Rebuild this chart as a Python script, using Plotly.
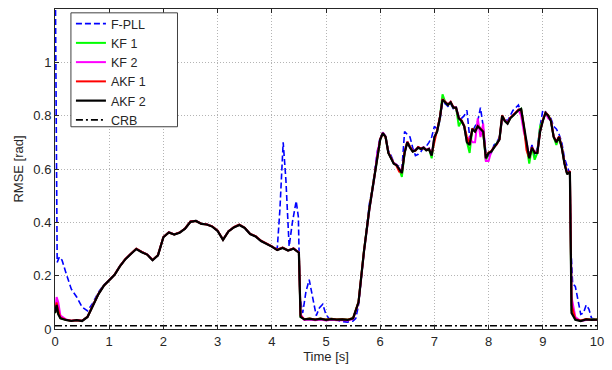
import plotly.graph_objects as go

# Sample times shared by the Kalman-filter estimators
t_kf = [0.0, 0.03, 0.06, 0.1, 0.2, 0.3, 0.4, 0.5, 0.6, 0.7,
        0.8, 0.9, 1.0, 1.1, 1.2, 1.3, 1.4, 1.5, 1.6, 1.7,
        1.8, 1.9, 2.0, 2.1, 2.2, 2.3, 2.4, 2.5, 2.6, 2.7,
        2.8, 2.9, 3.0, 3.1, 3.2, 3.3, 3.4, 3.5, 3.6, 3.7,
        3.8, 3.9, 4.0, 4.1, 4.2, 4.3, 4.4, 4.5, 4.53, 4.6,
        4.7, 4.8, 4.9, 5.0, 5.1, 5.2, 5.3, 5.4, 5.5, 5.6,
        5.7, 5.8, 5.9,
        5.95, 6.0, 6.05, 6.1, 6.15, 6.2, 6.25, 6.3, 6.35, 6.4,
        6.45, 6.5, 6.55, 6.6, 6.65, 6.7, 6.75, 6.8, 6.85, 6.9,
        6.95, 7.0, 7.05, 7.1, 7.15, 7.2, 7.25, 7.3, 7.35, 7.4,
        7.45, 7.5, 7.55, 7.6, 7.65, 7.7, 7.75, 7.8, 7.85, 7.9,
        7.95, 8.0, 8.05, 8.1, 8.15, 8.2, 8.25, 8.3, 8.35, 8.4,
        8.45, 8.5, 8.55, 8.6, 8.65, 8.7, 8.75, 8.8, 8.85, 8.9,
        8.95, 9.0, 9.05, 9.1, 9.15, 9.2, 9.25, 9.3, 9.35, 9.4,
        9.45, 9.5,
        9.53, 9.6, 9.7, 9.8, 9.9, 10.0]

akf2 = [0.060, 0.090, 0.055, 0.040, 0.034, 0.030, 0.033, 0.030, 0.045, 0.088,
        0.130, 0.162, 0.182, 0.203, 0.236, 0.262, 0.281, 0.300, 0.288, 0.279,
        0.258, 0.276, 0.344, 0.362, 0.354, 0.361, 0.376, 0.402, 0.405, 0.394,
        0.392, 0.384, 0.368, 0.334, 0.366, 0.381, 0.390, 0.379, 0.356, 0.347,
        0.330, 0.321, 0.309, 0.296, 0.304, 0.294, 0.301, 0.286, 0.045, 0.036,
        0.038, 0.035, 0.038, 0.034, 0.037, 0.035, 0.036, 0.034, 0.040, 0.100,
        0.290, 0.450, 0.580,
        0.660, 0.710, 0.735, 0.720, 0.660, 0.640, 0.620, 0.615, 0.600, 0.585,
        0.660, 0.700, 0.680, 0.665, 0.670, 0.680, 0.675, 0.680, 0.670, 0.675,
        0.650, 0.720, 0.740, 0.790, 0.860, 0.850, 0.840, 0.850, 0.830, 0.830,
        0.790, 0.780, 0.760, 0.700, 0.690, 0.750, 0.740, 0.760, 0.750, 0.740,
        0.640, 0.660, 0.665, 0.680, 0.690, 0.710, 0.800, 0.780, 0.770, 0.790,
        0.800, 0.810, 0.820, 0.825, 0.760, 0.700, 0.640, 0.680, 0.660, 0.660,
        0.740, 0.780, 0.810, 0.800, 0.780, 0.720, 0.700, 0.720, 0.680, 0.620,
        0.580, 0.590,
        0.060, 0.035, 0.030, 0.036, 0.034, 0.035]

akf1 = [0.060, 0.100, 0.070, 0.042, 0.035, 0.031, 0.033, 0.031, 0.046, 0.089,
        0.131, 0.162, 0.183, 0.204, 0.236, 0.263, 0.282, 0.301, 0.289, 0.279,
        0.259, 0.277, 0.345, 0.362, 0.355, 0.362, 0.377, 0.403, 0.405, 0.395,
        0.392, 0.385, 0.369, 0.335, 0.366, 0.382, 0.391, 0.380, 0.357, 0.348,
        0.331, 0.322, 0.310, 0.297, 0.305, 0.295, 0.302, 0.287, 0.050, 0.037,
        0.039, 0.036, 0.039, 0.035, 0.038, 0.036, 0.037, 0.035, 0.041, 0.102,
        0.292, 0.452, 0.582,
        0.662, 0.712, 0.733, 0.718, 0.662, 0.642, 0.622, 0.612, 0.590, 0.588,
        0.662, 0.702, 0.682, 0.667, 0.668, 0.682, 0.677, 0.678, 0.672, 0.673,
        0.655, 0.700, 0.742, 0.792, 0.862, 0.852, 0.842, 0.852, 0.832, 0.828,
        0.792, 0.782, 0.762, 0.720, 0.692, 0.752, 0.742, 0.762, 0.752, 0.742,
        0.642, 0.662, 0.667, 0.682, 0.692, 0.712, 0.802, 0.782, 0.772, 0.792,
        0.802, 0.812, 0.822, 0.823, 0.762, 0.670, 0.642, 0.682, 0.662, 0.662,
        0.742, 0.782, 0.812, 0.802, 0.782, 0.722, 0.702, 0.722, 0.682, 0.622,
        0.582, 0.592,
        0.090, 0.037, 0.032, 0.037, 0.035, 0.036]

kf2 = [0.060, 0.120, 0.100, 0.050, 0.036, 0.031, 0.034, 0.031, 0.046, 0.089,
       0.131, 0.163, 0.183, 0.204, 0.237, 0.263, 0.282, 0.301, 0.289, 0.280,
       0.259, 0.277, 0.345, 0.363, 0.355, 0.362, 0.377, 0.403, 0.406, 0.395,
       0.393, 0.385, 0.369, 0.335, 0.367, 0.382, 0.391, 0.380, 0.357, 0.348,
       0.331, 0.322, 0.310, 0.297, 0.305, 0.295, 0.302, 0.287, 0.055, 0.034,
       0.036, 0.033, 0.036, 0.032, 0.035, 0.033, 0.034, 0.032, 0.038, 0.098,
       0.288, 0.448, 0.578,
       0.662, 0.712, 0.737, 0.722, 0.662, 0.642, 0.622, 0.617, 0.602, 0.587,
       0.662, 0.702, 0.682, 0.667, 0.672, 0.682, 0.677, 0.682, 0.672, 0.677,
       0.652, 0.722, 0.742, 0.792, 0.862, 0.852, 0.842, 0.852, 0.832, 0.832,
       0.792, 0.782, 0.762, 0.702, 0.720, 0.700, 0.700, 0.790, 0.720, 0.770,
       0.630, 0.630, 0.667, 0.682, 0.692, 0.712, 0.790, 0.782, 0.772, 0.792,
       0.802, 0.812, 0.822, 0.800, 0.740, 0.702, 0.642, 0.682, 0.662, 0.662,
       0.742, 0.782, 0.812, 0.790, 0.782, 0.722, 0.702, 0.722, 0.682, 0.622,
       0.582, 0.592,
       0.120, 0.045, 0.030, 0.034, 0.033, 0.034]

kf1 = [0.060, 0.075, 0.060, 0.041, 0.035, 0.031, 0.034, 0.031, 0.046, 0.089,
       0.131, 0.163, 0.183, 0.204, 0.237, 0.263, 0.282, 0.301, 0.289, 0.280,
       0.259, 0.277, 0.345, 0.363, 0.355, 0.362, 0.377, 0.403, 0.406, 0.395,
       0.393, 0.385, 0.369, 0.335, 0.367, 0.382, 0.391, 0.380, 0.357, 0.348,
       0.331, 0.322, 0.310, 0.297, 0.305, 0.295, 0.302, 0.287, 0.046, 0.037,
       0.039, 0.036, 0.039, 0.035, 0.038, 0.036, 0.037, 0.035, 0.041, 0.101,
       0.291, 0.451, 0.581,
       0.661, 0.711, 0.736, 0.721, 0.661, 0.641, 0.621, 0.616, 0.601, 0.570,
       0.661, 0.701, 0.681, 0.666, 0.671, 0.681, 0.676, 0.681, 0.671, 0.676,
       0.640, 0.721, 0.741, 0.791, 0.880, 0.851, 0.841, 0.851, 0.831, 0.831,
       0.760, 0.781, 0.761, 0.701, 0.660, 0.751, 0.741, 0.770, 0.751, 0.741,
       0.630, 0.661, 0.666, 0.681, 0.691, 0.711, 0.790, 0.781, 0.771, 0.791,
       0.801, 0.811, 0.821, 0.826, 0.761, 0.701, 0.620, 0.681, 0.635, 0.661,
       0.760, 0.781, 0.811, 0.801, 0.781, 0.721, 0.690, 0.721, 0.681, 0.621,
       0.581, 0.591,
       0.070, 0.036, 0.031, 0.036, 0.035, 0.036]

# F-PLL has its own (finer) sampling around the oscillations
t_pll = [0.0, 0.02, 0.04, 0.08, 0.13, 0.2, 0.3, 0.4, 0.5, 0.6,
         0.7, 0.8, 0.9, 1.0, 1.1, 1.2, 1.3, 1.4, 1.5, 1.6,
         1.7, 1.8, 1.9, 2.0, 2.1, 2.2, 2.3, 2.4, 2.5, 2.6,
         2.7, 2.8, 2.9, 3.0, 3.1, 3.2, 3.3, 3.4, 3.5, 3.6,
         3.7, 3.8, 3.9, 4.0, 4.1, 4.15, 4.21, 4.26, 4.32, 4.38,
         4.45, 4.49, 4.52, 4.57, 4.63, 4.69, 4.75, 4.82, 4.88, 4.94,
         4.99, 5.05, 5.2, 5.3, 5.4, 5.5, 5.55, 5.6, 5.7, 5.8,
         5.85, 5.9, 5.95, 6.0, 6.05, 6.1, 6.15, 6.2, 6.25, 6.3,
         6.35, 6.4, 6.45, 6.5, 6.55, 6.6, 6.65, 6.7, 6.75, 6.8,
         6.85, 6.9, 6.95, 7.0, 7.05, 7.1, 7.15, 7.2, 7.25, 7.3,
         7.35, 7.4, 7.45, 7.5, 7.55, 7.6, 7.65, 7.7, 7.75, 7.8,
         7.85, 7.9, 7.95, 8.0, 8.05, 8.1, 8.15, 8.2, 8.25, 8.3,
         8.35, 8.4, 8.45, 8.5, 8.55, 8.6, 8.65, 8.7, 8.75, 8.8,
         8.85, 8.9, 8.95, 9.0, 9.05, 9.1, 9.15, 9.2, 9.25, 9.3,
         9.35, 9.4, 9.45, 9.5, 9.52, 9.55, 9.6, 9.65, 9.7, 9.75,
         9.8, 9.85, 9.9, 10.0]

fpll = [1.500, 0.600, 0.250, 0.270, 0.258, 0.212, 0.150, 0.120, 0.082, 0.068,
        0.098, 0.138, 0.165, 0.182, 0.205, 0.236, 0.262, 0.283, 0.300, 0.290,
        0.279, 0.259, 0.276, 0.344, 0.362, 0.356, 0.362, 0.377, 0.402, 0.406,
        0.395, 0.392, 0.384, 0.368, 0.336, 0.366, 0.381, 0.391, 0.379, 0.356,
        0.347, 0.330, 0.321, 0.309, 0.300, 0.450, 0.700, 0.560, 0.310, 0.400,
        0.480, 0.420, 0.120, 0.060, 0.140, 0.185, 0.120, 0.050, 0.080, 0.093,
        0.060, 0.040, 0.034, 0.028, 0.026, 0.030, 0.040, 0.090, 0.290, 0.470,
        0.520, 0.590, 0.670, 0.720, 0.735, 0.715, 0.670, 0.650, 0.625, 0.615,
        0.610, 0.600, 0.740, 0.730, 0.720, 0.680, 0.650, 0.655, 0.665, 0.680,
        0.685, 0.700, 0.720, 0.760, 0.750, 0.780, 0.850, 0.845, 0.835, 0.845,
        0.825, 0.820, 0.800, 0.790, 0.800, 0.820, 0.720, 0.740, 0.760, 0.780,
        0.830, 0.760, 0.660, 0.650, 0.660, 0.690, 0.700, 0.720, 0.780, 0.790,
        0.780, 0.800, 0.820, 0.830, 0.840, 0.810, 0.750, 0.690, 0.650, 0.690,
        0.650, 0.680, 0.760, 0.820, 0.815, 0.800, 0.790, 0.760, 0.750, 0.730,
        0.700, 0.640, 0.610, 0.580, 0.300, 0.170, 0.160, 0.100, 0.055, 0.060,
        0.090, 0.075, 0.040, 0.036]

# Cramer-Rao bound
t_crb = [0.0, 10.0]
crb = [0.012, 0.012]

x_ticks = [0, 1, 2, 3, 4, 5, 6, 7, 8, 9, 10]
y_ticks = [0, 0.2, 0.4, 0.6, 0.8, 1.0]
y_tick_text = ["0", "0.2", "0.4", "0.6", "0.8", "1"]

FONT = "Liberation Sans, Arial, sans-serif"
INK = "#262626"

fig = go.Figure()
fig.add_trace(go.Scatter(x=t_pll, y=fpll, name="F-PLL", mode="lines",
                         line=dict(color="#0000ff", width=1.6, dash="6px,3px")))
fig.add_trace(go.Scatter(x=t_kf, y=kf1, name="KF 1", mode="lines",
                         line=dict(color="#00ff00", width=2)))
fig.add_trace(go.Scatter(x=t_kf, y=kf2, name="KF 2", mode="lines",
                         line=dict(color="#ff00ff", width=2)))
fig.add_trace(go.Scatter(x=t_kf, y=akf1, name="AKF 1", mode="lines",
                         line=dict(color="#ff0000", width=2)))
fig.add_trace(go.Scatter(x=t_kf, y=akf2, name="AKF 2", mode="lines",
                         line=dict(color="#000000", width=2.2)))
fig.add_trace(go.Scatter(x=t_crb, y=crb, name="CRB", mode="lines",
                         line=dict(color="#000000", width=1.6, dash="7px,3px,2px,3px")))

axis_common = dict(
    showline=True, linecolor=INK, linewidth=1, mirror="allticks",
    ticks="inside", ticklen=4, tickcolor=INK,
    showgrid=True, gridcolor="#b4b4b4", gridwidth=1, griddash="1px,2px",
    zeroline=False,
    tickfont=dict(family=FONT, size=13, color=INK),
    title_font=dict(family=FONT, size=13, color=INK),
)

# Legend frame drawn as a rectangle so its size can be set independently
fig.add_shape(type="rect", xref="paper", yref="paper",
              x0=0.0294, x1=0.226, y0=0.632, y1=0.988,
              fillcolor="white", line=dict(color="#404040", width=1), layer="above")

fig.update_layout(
    width=612, height=370,
    margin=dict(l=55, r=13, t=8, b=38),
    paper_bgcolor="white", plot_bgcolor="white",
    font=dict(family=FONT, size=13, color=INK),
    xaxis=dict(range=[0, 10], tickvals=x_ticks, title=dict(text="Time [s]", standoff=4),
               **axis_common),
    yaxis=dict(range=[0, 1.2], tickvals=y_ticks, ticktext=y_tick_text,
               title=dict(text="RMSE [rad]", standoff=6), **axis_common),
    legend=dict(x=0.0294, y=1.0, xanchor="left", yanchor="top",
                bgcolor="rgba(0,0,0,0)", borderwidth=0,
                font=dict(family=FONT, size=12.5, color=INK),
                tracegroupgap=0, itemwidth=30),
    showlegend=True,
)

fig.write_html("out.html")
